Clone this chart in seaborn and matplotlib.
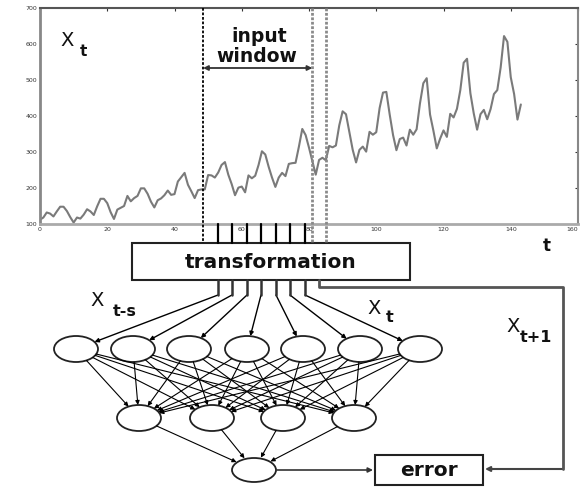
import numpy as np
import pandas as pd
import matplotlib
matplotlib.use("Agg")
import matplotlib.pyplot as plt
import seaborn as sns
from matplotlib.patches import Ellipse, Rectangle, FancyArrowPatch
from matplotlib.transforms import blended_transform_factory

# ---------------- data ----------------
passengers = [112, 118, 132, 129, 121, 135, 148, 148, 136, 119, 104, 118,
              115, 126, 141, 135, 125, 149, 170, 170, 158, 133, 114, 140,
              145, 150, 178, 163, 172, 178, 199, 199, 184, 162, 146, 166,
              171, 180, 193, 181, 183, 218, 230, 242, 209, 191, 172, 194,
              196, 196, 236, 235, 229, 243, 264, 272, 237, 211, 180, 201,
              204, 188, 235, 227, 234, 264, 302, 293, 259, 229, 203, 229,
              242, 233, 267, 269, 270, 315, 364, 347, 312, 274, 237, 278,
              284, 277, 317, 313, 318, 374, 413, 405, 355, 306, 271, 306,
              315, 301, 356, 348, 355, 422, 465, 467, 404, 347, 305, 336,
              340, 318, 362, 348, 363, 435, 491, 505, 404, 359, 310, 337,
              360, 342, 406, 396, 420, 472, 548, 559, 463, 407, 362, 405,
              417, 391, 419, 461, 472, 535, 622, 606, 508, 461, 390, 432]
time_index = list(range(len(passengers)))
x_ticks = [0, 20, 40, 60, 80, 100, 120, 140, 160]
y_ticks = [100, 200, 300, 400, 500, 600, 700]
window_start = 48.5
window_end = 81
target_t = 85

# ---------------- style ----------------
sns.set_style("white")
plt.rcParams['font.family'] = ['DejaVu Sans']

W, H = 582, 487
fig = plt.figure(figsize=(W / 100, H / 100), dpi=100)

# time-series axes (pixel box: x 40..578, y 8..224)
ax = fig.add_axes([40 / W, 1 - 224 / H, (578 - 40) / W, (224 - 8) / H])
df = pd.DataFrame({"t": time_index, "x": passengers})
sns.lineplot(data=df, x="t", y="x", ax=ax, color="#7a7a7a", lw=1.5)
ax.set_xlim(0, 160)
ax.set_ylim(100, 700)
ax.set_xticks(x_ticks)
ax.set_yticks(y_ticks)
ax.set_xlabel("")
ax.set_ylabel("")
ax.tick_params(direction="in", length=2.5, width=0.8, top=True, right=True,
               labelsize=4.5, pad=2, colors="#333333")
ax.get_xticklabels()[-1].set_horizontalalignment("right")
ax.spines["left"].set_color("#888888"); ax.spines["left"].set_linewidth(2)
ax.spines["bottom"].set_color("#aaaaaa"); ax.spines["bottom"].set_linewidth(2)
ax.spines["top"].set_color("#555555"); ax.spines["top"].set_linewidth(1.5)
ax.spines["right"].set_color("#888888"); ax.spines["right"].set_linewidth(1.5)

# overlay axes in pixel coordinates for the diagram
ov = fig.add_axes([0, 0, 1, 1], zorder=5)
ov.set_xlim(0, W)
ov.set_ylim(H, 0)
ov.axis("off")
ov.patch.set_alpha(0)
bt = blended_transform_factory(ax.transData, ov.transData)

# window markers
ov.plot([window_start, window_start], [8, 243], transform=bt, color="black",
        lw=1.3, ls=(0, (1.5, 1)))
for xv in (window_end, target_t):
    ov.plot([xv, xv], [8, 243], transform=bt, color="#8a8a8a", lw=2,
            ls=(0, (1, 0.6)))
ov.add_patch(FancyArrowPatch((window_start, 68), (window_end, 68), transform=bt,
                             arrowstyle="<|-|>", mutation_scale=7, lw=1.3,
                             color="#333333", shrinkA=0, shrinkB=0))
ov.text(259, 37, "input", ha="center", va="center", fontsize=13.5,
        fontweight="bold", color="#111111")
ov.text(257, 56, "window", ha="center", va="center", fontsize=13.5,
        fontweight="bold", color="#111111")

# series label and axis label
ov.text(67, 41, "X", ha="center", va="center", fontsize=14, color="#111111")
ov.text(83, 52, "t", ha="center", va="center", fontsize=11,
        fontweight="bold", color="#111111")
ov.text(547, 246, "t", ha="center", va="center", fontsize=12,
        fontweight="bold", color="#111111")

# transformation box
ov.add_patch(Rectangle((132, 243), 278, 37, fill=False, ec="#222222", lw=1.5))
ov.text(271, 262, "transformation", ha="center", va="center", fontsize=14.5,
        fontweight="bold", color="#111111")

# node layout
in_x = [76, 133, 189, 247, 303, 360, 420]
in_y = 349
hid_x = [139, 212, 283, 354]
hid_y = 418
out_x, out_y = 254, 470
nw, nh = 44, 26
tap_x = [218, 232, 247, 261, 276, 290, 305]


def edge(cx, cy, tx, ty):
    dx, dy = tx - cx, ty - cy
    s = 1 / np.sqrt((dx / (nw / 2)) ** 2 + (dy / (nh / 2)) ** 2)
    return cx + dx * s, cy + dy * s


def arrow(p, q, lw=0.8, color="black", ms=6):
    ov.add_patch(FancyArrowPatch(p, q, arrowstyle="-|>", mutation_scale=ms,
                                 lw=lw, color=color, shrinkA=0, shrinkB=0))


# taps from the x-axis to the box, and from the box to the input nodes
for i, xv in enumerate(tap_x):
    ov.plot([xv, xv], [224, 243], color="black", lw=1.6)
    ov.plot([xv, xv], [280, 295], color="#333333", lw=1.8)
    tgt = edge(in_x[i], in_y, xv, 295)
    arrow((xv, 295), tgt, lw=1.0)

# return path for x_{t+1}
ov.plot([319, 319, 563, 563], [280, 287, 287, 469], color="#555555", lw=2)
arrow((563, 469), (485, 469), lw=1.5, color="#444444", ms=7)

# nodes
for xv in in_x:
    ov.add_patch(Ellipse((xv, in_y), nw, nh, fill=False, ec="#222222", lw=1.3))
for xv in hid_x:
    ov.add_patch(Ellipse((xv, hid_y), nw, nh, fill=False, ec="#222222", lw=1.3))
ov.add_patch(Ellipse((out_x, out_y), nw, nh - 2, fill=False, ec="#222222", lw=1.3))

# input -> hidden connections
for xi in in_x:
    for xh in hid_x:
        p = edge(xi, in_y, xh, hid_y)
        q = edge(xh, hid_y, xi, in_y)
        arrow(p, q, lw=0.8)

# hidden -> output
for xh in hid_x:
    p = edge(xh, hid_y, out_x, out_y)
    q = edge(out_x, out_y, xh, hid_y)
    arrow(p, q, lw=0.8)

# output -> error
arrow((out_x + nw / 2, out_y), (373, out_y), lw=1.2, color="#333333", ms=7)
ov.add_patch(Rectangle((375, 455), 108, 30, fill=False, ec="#222222", lw=1.5))
ov.text(429, 470, "error", ha="center", va="center", fontsize=14.5,
        fontweight="bold", color="#111111")

# variable labels
ov.text(97, 301, "X", ha="center", va="center", fontsize=14, color="#111111")
ov.text(125, 311, "t-s", ha="center", va="center", fontsize=11.5,
        fontweight="bold", color="#111111")
ov.text(374, 308, "X", ha="center", va="center", fontsize=14, color="#111111")
ov.text(390, 317, "t", ha="center", va="center", fontsize=11.5,
        fontweight="bold", color="#111111")
ov.text(513, 327, "X", ha="center", va="center", fontsize=14, color="#111111")
ov.text(536, 338, "t+1", ha="center", va="center", fontsize=11.5,
        fontweight="bold", color="#111111")

fig.savefig("out.png", dpi=100)
